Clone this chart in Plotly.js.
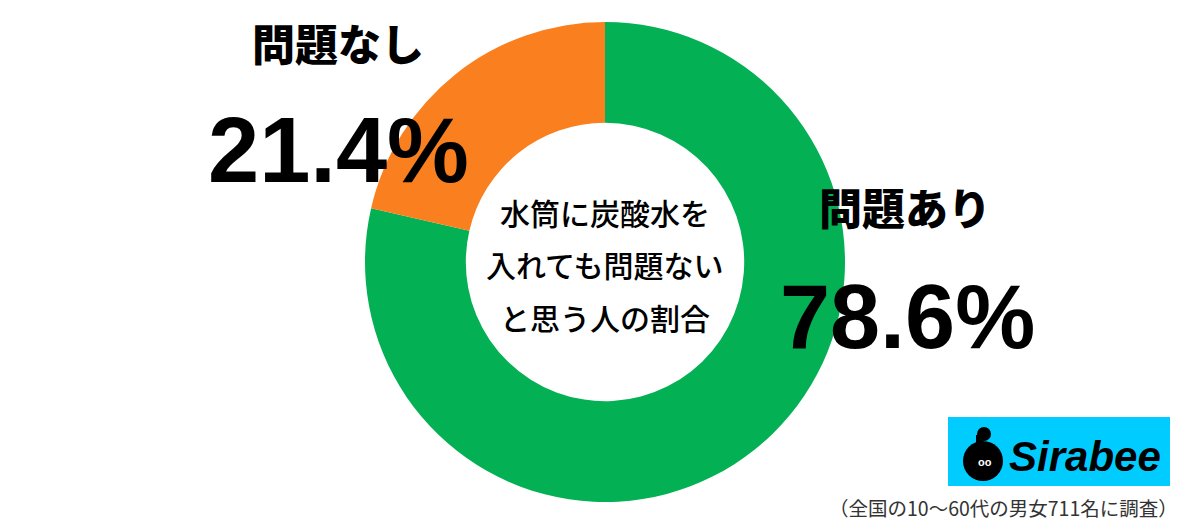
<!DOCTYPE html>
<html>
<head>
<meta charset="utf-8">
<script src="https://cdn.plot.ly/plotly-3.0.1.min.js"></script>
<style>html,body{margin:0;padding:0;background:#fff;}#chart{width:1200px;height:522px;}</style>
</head>
<body>
<div id="chart"></div>
<script>
const categories = ["問題あり", "問題なし"];
const values = [78.6, 21.4];
const valueLabels = ["78.6%", "21.4%"];
const colors = ["#03B053", "#FA7F1E"];
const centerTitle = ["水筒に炭酸水を", "入れても問題ない", "と思う人の割合"];
const footnote = "（全国の10～60代の男女711名に調査）";
const brand = "Sirabee";

const W = 1200, H = 522;
const px = x => x / W;
const py = y => 1 - y / H;
const JP = '"Noto Sans CJK JP", "Noto Sans", sans-serif';
const NUM = '"Liberation Sans", Arial, sans-serif';

const trace = {
  type: "pie",
  labels: categories,
  values: values,
  sort: false,
  direction: "clockwise",
  rotation: 0,
  hole: 0.58,
  marker: {colors: colors, line: {width: 0}},
  textinfo: "none",
  hoverinfo: "none",
  showlegend: false,
  domain: {x: [px(365), px(845)], y: [py(502), py(22)]}
};

const annotations = [];
function ann(text, x, y, size, family, weight, color, xanchor) {
  annotations.push({text: text, x: px(x), y: py(y), xref: "paper", yref: "paper",
    xanchor: xanchor || "center", yanchor: "middle", showarrow: false,
    font: {size: size, family: family, weight: weight, color: color || "#000"}});
}
ann(categories[1], 338, 42, 43, JP, 900);
ann(valueLabels[1], 338, 150, 92, NUM, 700);
ann(categories[0], 905, 206, 43, JP, 900);
ann(valueLabels[0], 907, 317, 90, NUM, 700);
ann(centerTitle[0], 605, 212, 30, JP, 500);
ann(centerTitle[1], 605, 264, 30, JP, 500);
ann(centerTitle[2], 605, 317, 30, JP, 500);
ann(footnote, 1180, 507, 19.5, JP, 400, "#333", "right");
ann("<i>" + brand + "</i>", 1085, 456, 42, '"Liberation Sans", Arial, sans-serif', 700, "#000");
ann("oo", 985, 462, 11, NUM, 700, "#fff");

const shapes = [
  {type: "rect", xref: "paper", yref: "paper", x0: px(948), x1: px(1170), y0: py(486), y1: py(417), fillcolor: "#00CCFF", line: {width: 0}, layer: "below"},
  {type: "circle", xref: "paper", yref: "paper", x0: px(963), x1: px(1003), y0: py(481), y1: py(441), fillcolor: "#000", line: {width: 0}},
  {type: "circle", xref: "paper", yref: "paper", x0: px(977), x1: px(991), y0: py(441), y1: py(427), fillcolor: "#000", line: {width: 0}},
  {type: "rect", xref: "paper", yref: "paper", x0: px(976), x1: px(983), y0: py(447), y1: py(435), fillcolor: "#000", line: {width: 0}}
];

Plotly.newPlot("chart", [trace], {
  width: W, height: H,
  margin: {l: 0, r: 0, t: 0, b: 0},
  paper_bgcolor: "#fff", plot_bgcolor: "#fff",
  annotations: annotations,
  shapes: shapes
}, {displayModeBar: false, staticPlot: true});
</script>
</body>
</html>
